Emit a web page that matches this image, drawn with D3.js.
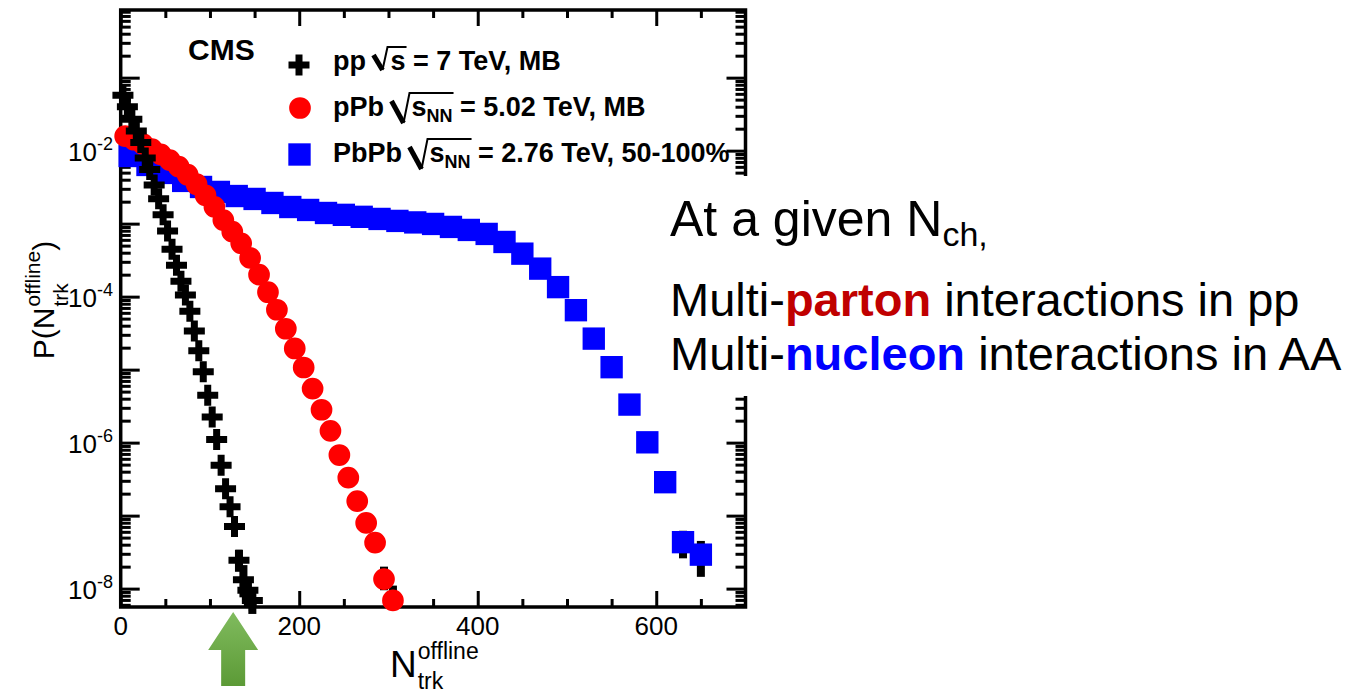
<!DOCTYPE html>
<html>
<head>
<meta charset="utf-8">
<script src="https://cdn.jsdelivr.net/npm/d3@7"></script>
<style>
  body { margin: 0; background: #fff; }
  svg { display: block; font-family: "Liberation Sans", Arial, Helvetica, sans-serif; }
  text { white-space: pre; }
</style>
</head>
<body>
<svg id="chart" width="1365" height="695"></svg>
<script>
// values: N_trk bin centres and P(N_trk)
const ppN = [2.5, 7.5, 12.5, 17.5, 22.5, 27.5, 32.5, 37.5, 42.5, 47.5, 52.5, 57.5, 62.5, 67.5, 72.5,
             77.5, 82.5, 87.5, 92.5, 97.5, 102.5, 107.5, 112.5, 117.5, 122.5, 127.5, 132.5, 137.5, 142.5, 147.5];
const ppP = [5.75e-2, 3.98e-2, 2.69e-2, 1.86e-2, 1.29e-2, 7.94e-3, 5.50e-3, 3.39e-3, 2.19e-3, 1.32e-3,
             7.94e-4, 4.47e-4, 2.69e-4, 1.62e-4, 1.05e-4, 6.31e-5, 3.39e-5, 1.82e-5, 9.33e-6, 4.47e-6,
             2.24e-6, 1.10e-6, 4.90e-7, 2.34e-7, 1.32e-7, 7.08e-8, 2.45e-8, 1.32e-8, 9.5e-9, 6.9e-9];

const pPbN = [5, 15, 25, 35, 45, 55, 65, 75, 85, 95, 105, 115, 125, 135, 145, 155,
              165, 175, 185, 195, 205, 215, 225, 235, 245, 255, 265, 275, 285, 295, 305];
const pPbP = [1.58e-2, 1.41e-2, 1.23e-2, 1.05e-2, 8.91e-3, 7.41e-3, 6.03e-3, 4.68e-3, 3.47e-3, 2.45e-3,
              1.70e-3, 1.12e-3, 7.76e-4, 5.37e-4, 3.39e-4, 2.00e-4, 1.15e-4, 6.61e-5, 3.63e-5, 1.95e-5,
              1.07e-5, 5.50e-6, 2.82e-6, 1.45e-6, 6.76e-7, 3.31e-7, 1.58e-7, 7.94e-8, 4.27e-8, 1.35e-8, 6.9e-9];

const PbPbN = [10, 30, 50, 70, 90, 110, 130, 150, 170, 190, 210, 230, 250, 270, 290, 310, 330,
               350, 370, 390, 410, 430, 450, 470, 490, 510, 530, 550, 570, 590, 610, 630, 650];
const PbPbP = [8.45e-3, 6.37e-3, 4.95e-3, 3.85e-3, 3.18e-3, 2.72e-3, 2.39e-3, 2.18e-3, 1.92e-3, 1.69e-3,
               1.54e-3, 1.40e-3, 1.32e-3, 1.24e-3, 1.16e-3, 1.09e-3, 1.04e-3, 9.91e-4, 9.02e-4, 8.20e-4,
               7.23e-4, 5.61e-4, 3.88e-4, 2.42e-4, 1.35e-4, 6.52e-5, 2.66e-5, 1.08e-5, 3.32e-6, 1.01e-6,
               2.87e-7, 4.33e-8, 2.92e-8];

// the few error bars that stick out of the markers: [N, low, high]
const errBars = [
  [132.5, 1.7e-8, 3.4e-8], [137.5, 7.6e-9, 2.1e-8], [142.5, 5.7e-9, 1.4e-8], [147.5, 4.5e-9, 1.0e-8],
  [295, 9.5e-9, 2.0e-8], [305, 6.0e-9, 1.1e-8],
  [630, 2.6e-8, 6.2e-8], [650, 1.45e-8, 4.5e-8]
];

const xMajor = [0, 200, 400, 600];
const xMinor = [50, 100, 150, 250, 300, 350, 450, 500, 550, 650];
const yLabelExp = [-2, -4, -6, -8];
const arrowN = 126;

const svg = d3.select("#chart");
const frame = { left: 120.7, right: 745.5, top: 10, bottom: 607 };

const x = d3.scaleLinear().domain([0, 700]).range([frame.left, frame.right]);
const y = d3.scaleLog().domain([5.6e-9, 0.845]).range([frame.bottom, frame.top]);

// log ticks: decades are long, 2..9 short
const yMajor = d3.range(-8, 0).map(e => Math.pow(10, e));
const yMinor = [];
d3.range(-9, 0).forEach(e => {
  for (let m = 2; m <= 9; m++) {
    const v = m * Math.pow(10, e);
    if (v > 5.6e-9 && v < 0.845) yMinor.push(v);
  }
});

function tickAxis(axis, tx, ty) {
  svg.append("g")
    .attr("transform", `translate(${tx},${ty})`)
    .call(axis.tickFormat(""))
    .call(g => g.select(".domain").remove())
    .call(g => g.selectAll("line").attr("stroke", "#000").attr("stroke-width", 3));
}

tickAxis(d3.axisTop(x).tickValues(xMajor).tickSize(16), 0, frame.bottom);
tickAxis(d3.axisTop(x).tickValues(xMinor).tickSize(8), 0, frame.bottom);
tickAxis(d3.axisBottom(x).tickValues(xMajor).tickSize(16), 0, frame.top);
tickAxis(d3.axisBottom(x).tickValues(xMinor).tickSize(8), 0, frame.top);
tickAxis(d3.axisRight(y).tickValues(yMajor).tickSize(19), frame.left, 0);
tickAxis(d3.axisRight(y).tickValues(yMinor).tickSize(10), frame.left, 0);
tickAxis(d3.axisLeft(y).tickValues(yMajor).tickSize(19), frame.right, 0);
tickAxis(d3.axisLeft(y).tickValues(yMinor).tickSize(10), frame.right, 0);

svg.append("rect")
  .attr("x", frame.left).attr("y", frame.top)
  .attr("width", frame.right - frame.left).attr("height", frame.bottom - frame.top)
  .attr("fill", "none").attr("stroke", "#000").attr("stroke-width", 3.5);

// tick labels
svg.selectAll(".xlab").data(xMajor).join("text")
  .attr("x", d => x(d)).attr("y", 635)
  .attr("text-anchor", "middle").attr("font-size", 26)
  .text(d => d);

const ylab = svg.selectAll(".ylab").data(yLabelExp).join("text")
  .attr("x", 113).attr("y", d => y(Math.pow(10, d)) + 10)
  .attr("text-anchor", "end").attr("font-size", 26);
ylab.append("tspan").text("10");
ylab.append("tspan").attr("font-size", 18).attr("dy", -11).text(d => d);

// error bars under the markers
svg.selectAll(".err").data(errBars).join("rect")
  .attr("x", d => x(d[0]) - 4).attr("width", 8)
  .attr("y", d => y(d[2])).attr("height", d => y(d[1]) - y(d[2]))
  .attr("fill", "#000");

const crossSym = d3.symbol().type(d3.symbolCross).size(245);
const circleSym = d3.symbol().type(d3.symbolCircle).size(370);
const squareSym = d3.symbol().type(d3.symbolSquare).size(500);

svg.append("g").selectAll("path").data(d3.zip(PbPbN, PbPbP)).join("path")
  .attr("transform", d => `translate(${x(d[0])},${y(d[1])})`)
  .attr("d", squareSym).attr("fill", "#0000ff");

svg.append("g").selectAll("path").data(d3.zip(pPbN, pPbP)).join("path")
  .attr("transform", d => `translate(${x(d[0])},${y(d[1])})`)
  .attr("d", circleSym).attr("fill", "#ff0000");

svg.append("g").selectAll("path").data(d3.zip(ppN, ppP)).join("path")
  .attr("transform", d => `translate(${x(d[0])},${y(d[1])})`)
  .attr("d", crossSym).attr("fill", "#000");

// text pieces placed one after another, with a drawn square-root sign
function richText(g, x0, base, parts, size) {
  let cx = x0;
  parts.forEach(p => {
    if (p.sqrt) {
      const deep = p.deep ? 7 : 0;
      const end = richText(g, cx + (p.deep ? 20 : 17), base, p.sqrt, size);
      g.append("path")
        .attr("d", `M${cx},${base - 15}L${cx + (p.deep ? 12 : 9)},${base + deep}`)
        .attr("stroke", "#000").attr("stroke-width", 5).attr("fill", "none");
      g.append("path")
        .attr("d", `M${cx + (p.deep ? 12 : 9)},${base + deep}L${cx + (p.deep ? 18 : 14)},${base - 23}L${end + 1},${base - 23}`)
        .attr("stroke", "#000").attr("stroke-width", 2).attr("fill", "none");
      cx = end;
    } else {
      const t = g.append("text")
        .attr("x", cx).attr("y", base + (p.dy || 0))
        .attr("font-size", p.size || size)
        .text(p.t);
      cx += t.node().getComputedTextLength();
    }
  });
  return cx;
}

const legend = svg.append("g").attr("font-weight", "bold");
legend.append("text").attr("x", 188).attr("y", 60).attr("font-size", 30).text("CMS");

legend.append("path").attr("transform", "translate(299,65)").attr("d", crossSym).attr("fill", "#000");
legend.append("path").attr("transform", "translate(300,108)").attr("d", circleSym).attr("fill", "#ff0000");
legend.append("path").attr("transform", "translate(299.5,154.5)").attr("d", squareSym).attr("fill", "#0000ff");

richText(legend, 333, 70, [
  { t: "pp " }, { sqrt: [{ t: "s" }] }, { t: " = 7 TeV, MB" }
], 27);
richText(legend, 333, 116, [
  { t: "pPb " }, { sqrt: [{ t: "s" }, { t: "NN", size: 18, dy: 6 }], deep: true }, { t: " = 5.02 TeV, MB" }
], 27);
richText(legend, 333, 162, [
  { t: "PbPb " }, { sqrt: [{ t: "s" }, { t: "NN", size: 18, dy: 6 }], deep: true }, { t: " = 2.76 TeV, 50-100%" }
], 27);

// axis titles
const xt = svg.append("g");
const nEnd = richText(xt, 390, 677, [{ t: "N" }], 37);
xt.append("text").attr("x", nEnd + 1).attr("y", 659).attr("font-size", 23).text("offline");
xt.append("text").attr("x", nEnd + 1).attr("y", 689).attr("font-size", 23).text("trk");

const yt = svg.append("g");
const pEnd = richText(yt, 0, 0, [{ t: "P(N" }], 30);
const supT = yt.append("text").attr("x", pEnd + 1).attr("y", -14).attr("font-size", 21).text("offline");
yt.append("text").attr("x", pEnd + 1).attr("y", 14).attr("font-size", 21).text("trk");
const closeX = pEnd + 1 + supT.node().getComputedTextLength();
yt.append("text").attr("x", closeX).attr("y", 0).attr("font-size", 30).text(")");
const ytLen = closeX + 10;
yt.attr("transform", `translate(54,${300 + ytLen / 2}) rotate(-90)`);

// green arrow under the x axis
const grad = svg.append("defs").append("linearGradient")
  .attr("id", "arrowGrad").attr("x1", 0).attr("y1", 0).attr("x2", 0).attr("y2", 1);
grad.append("stop").attr("offset", "0%").attr("stop-color", "#80bb5e");
grad.append("stop").attr("offset", "100%").attr("stop-color", "#5c9a36");
const ax = x(arrowN);
svg.append("path")
  .attr("d", `M${ax},612L${ax + 25},650L${ax + 12},650L${ax + 12},686L${ax - 12},686L${ax - 12},650L${ax - 25},650Z`)
  .attr("fill", "url(#arrowGrad)");

// annotation on a white box that hides part of the frame
const note = svg.append("g");
note.append("rect").attr("x", 660).attr("y", 176).attr("width", 705).attr("height", 220).attr("fill", "#fff");
const l1 = note.append("text").attr("x", 670).attr("y", 236).attr("font-size", 50);
l1.append("tspan").text("At a given N");
l1.append("tspan").attr("font-size", 34).attr("dy", 10).text("ch,");

const l2 = note.append("text").attr("x", 670).attr("y", 316).attr("font-size", 47);
l2.append("tspan").text("Multi-");
l2.append("tspan").attr("font-weight", "bold").attr("fill", "#c00000").text("parton");
l2.append("tspan").text(" interactions in pp");

const l3 = note.append("text").attr("x", 670).attr("y", 370).attr("font-size", 47);
l3.append("tspan").text("Multi-");
l3.append("tspan").attr("font-weight", "bold").attr("fill", "#0000ff").text("nucleon");
l3.append("tspan").text(" interactions in AA");
</script>
</body>
</html>
